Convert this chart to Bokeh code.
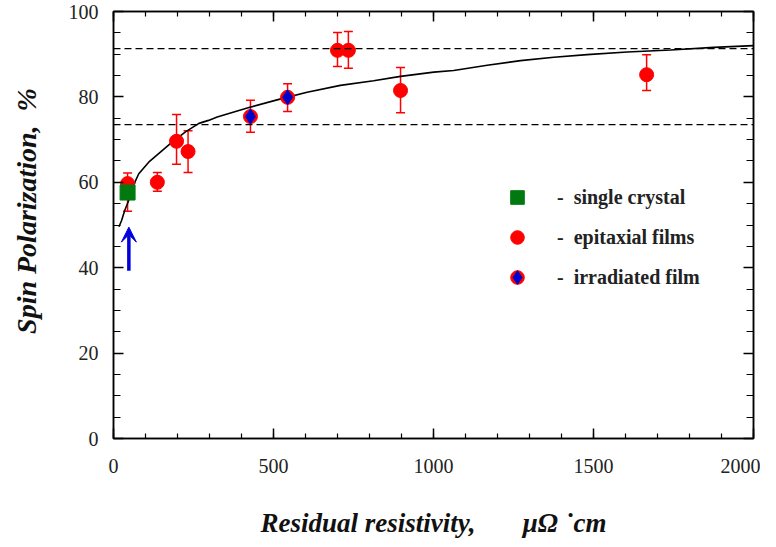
from bokeh.plotting import figure
from bokeh.models import (ColumnDataSource, Whisker, TeeHead, Span, Arrow, VeeHead,
                          LinearAxis, Range1d, Legend, LegendItem, FixedTicker,
                          CustomJSTickFormatter)
from bokeh.embed import file_html
from bokeh.resources import INLINE

# ---- data ----
epi_x = [44, 137, 197, 233, 700, 734, 897, 1666]
epi_y = [59.7, 60.0, 69.6, 67.2, 90.9, 90.9, 81.5, 85.2]
epi_err_x = [137, 197, 233, 700, 734, 897, 1666]
epi_hi = [62.3, 75.9, 72.1, 95.1, 95.3, 86.9, 89.9]
epi_lo = [57.9, 64.2, 62.3, 87.1, 86.7, 76.3, 81.5]

sc_x = [44]
sc_y = [57.6]
sc_hi = [62.2]
sc_lo = [53.2]

irr_x = [428, 544]
irr_y = [75.4, 79.9]
irr_hi = [79.2, 83.1]
irr_lo = [71.7, 76.6]

curve_x = [17, 25, 35, 50, 69, 79, 110, 152, 183, 225, 267, 297, 324, 418, 511,
           605, 709, 813, 897, 1001, 1063, 1168, 1272, 1376, 1480, 1605, 1741, 1876, 2000]
curve_y = [49.6, 51.0, 53.4, 56.2, 60.4, 62.0, 64.7, 67.4, 69.4, 71.8, 73.8, 74.5, 75.3,
           77.4, 79.3, 81.1, 82.7, 83.8, 84.8, 85.8, 86.2, 87.4, 88.5, 89.3, 89.9, 90.5,
           91.0, 91.6, 92.0]

ref_levels = [91.3, 73.5]
arrow_x = 48
arrow_y0 = 39.3
arrow_y1 = 49.5

x_ticks = [0, 500, 1000, 1500, 2000]
y_ticks = [0, 20, 40, 60, 80, 100]

SERIF = "Liberation Serif"
NB = "\u00a0"

p = figure(width=760, height=540, output_backend="svg", toolbar_location=None,
           x_range=Range1d(0, 2000), y_range=Range1d(0, 100),
           min_border_left=113, min_border_right=7, min_border_top=11, min_border_bottom=102)
p.background_fill_color = "white"
p.border_fill_color = "white"
p.grid.visible = False
p.outline_line_color = "black"
p.outline_line_width = 1.5

# bottom / left axes
xa = p.xaxis[0]
ya = p.yaxis[0]
xa.ticker = FixedTicker(ticks=x_ticks, minor_ticks=list(range(0, 2001, 100)))
ya.ticker = FixedTicker(ticks=y_ticks, minor_ticks=list(range(0, 101, 5)))
for ax in (xa, ya):
    ax.axis_line_width = 1.5
    ax.major_tick_out = 0
    ax.minor_tick_out = 0
    ax.major_tick_in = 10
    ax.major_tick_line_width = 1.5
    ax.minor_tick_line_width = 1.2
    ax.major_label_text_font = SERIF
    ax.major_label_text_font_size = "20px"
    ax.major_label_text_color = "#222222"
    ax.axis_label_text_font = SERIF
    ax.axis_label_text_font_style = "bold italic"
    ax.axis_label_text_color = "#111111"
xa.axis_label_text_font_size = "27px"
ya.axis_label_text_font_size = "28px"
ya.minor_tick_in = 7
xa.minor_tick_in = 5
xa.major_label_standoff = 20
ya.major_label_standoff = 15
xa.axis_label = "Residual resistivity," + NB * 6 + " \u03bc\u03a9 \u02d9cm"
ya.axis_label = NB * 4 + "Spin Polarization," + NB + " %"
xa.axis_label_standoff = 32
ya.axis_label_standoff = 24

# top / right axes: ticks only
for side in ("above", "right"):
    ax = LinearAxis()
    if side == "above":
        ax.ticker = FixedTicker(ticks=x_ticks, minor_ticks=list(range(0, 2001, 100)))
        ax.minor_tick_in = 5
    else:
        ax.ticker = FixedTicker(ticks=y_ticks, minor_ticks=list(range(0, 101, 5)))
        ax.minor_tick_in = 7
    ax.formatter = CustomJSTickFormatter(code="return ''")
    ax.major_label_text_font_size = "1px"
    ax.major_label_standoff = 0
    ax.major_tick_out = 0
    ax.minor_tick_out = 0
    ax.major_tick_in = 10
    ax.axis_line_width = 1.5
    ax.major_tick_line_width = 1.5
    ax.minor_tick_line_width = 1.2
    p.add_layout(ax, side)

# dashed reference levels
for lv in ref_levels:
    p.add_layout(Span(location=lv, dimension="width", line_color="black",
                      line_width=1.3, line_dash="7 4"))

# fitted curve
p.line(curve_x, curve_y, line_color="black", line_width=1.6)

# error bars
def whisk(xs, lo, hi):
    src = ColumnDataSource(dict(x=xs, lo=lo, hi=hi))
    w = Whisker(source=src, base="x", lower="lo", upper="hi", dimension="height",
                line_color="red", line_width=1.5,
                lower_head=TeeHead(size=9, line_color="red", line_width=1.5),
                upper_head=TeeHead(size=9, line_color="red", line_width=1.5))
    p.add_layout(w)

whisk(epi_err_x, epi_lo, epi_hi)
whisk(irr_x, irr_lo, irr_hi)
whisk(sc_x, sc_lo, sc_hi)

r_epi = p.scatter(epi_x, epi_y, marker="circle", size=14, fill_color="red", line_color="red")
r_irr_c = p.scatter(irr_x, irr_y, marker="circle", size=14, fill_color="red", line_color="red")
r_irr_d = p.scatter(irr_x, irr_y, marker="diamond", size=15,
                    fill_color="#0000cc", line_color="#0000cc")
r_sc = p.scatter(sc_x, sc_y, marker="square", size=15, fill_color="#007a10", line_color="#007a10")

# arrow
p.add_layout(Arrow(x_start=arrow_x, y_start=arrow_y0, x_end=arrow_x, y_end=arrow_y1,
                   line_color="#0000dd", line_width=3.5,
                   end=VeeHead(size=15, fill_color="#0000dd", line_color="#0000dd", line_width=1)))

legend = Legend(items=[
    LegendItem(label="-  single crystal", renderers=[r_sc]),
    LegendItem(label="-  epitaxial films", renderers=[r_epi]),
    LegendItem(label="-  irradiated film", renderers=[r_irr_c, r_irr_d]),
], location=(387, 144), orientation="vertical")
legend.background_fill_alpha = 0
legend.border_line_color = None
legend.padding = 0
legend.margin = 0
legend.glyph_width = 34
legend.glyph_height = 34
legend.label_height = 34
legend.spacing = 6
legend.label_standoff = 23
legend.label_text_font = SERIF
legend.label_text_font_size = "20px"
legend.label_text_font_style = "bold"
legend.label_text_color = "#222222"
legend.label_text_baseline = "middle"
p.add_layout(legend, "center")

open("out.html", "w").write(file_html(p, INLINE))
